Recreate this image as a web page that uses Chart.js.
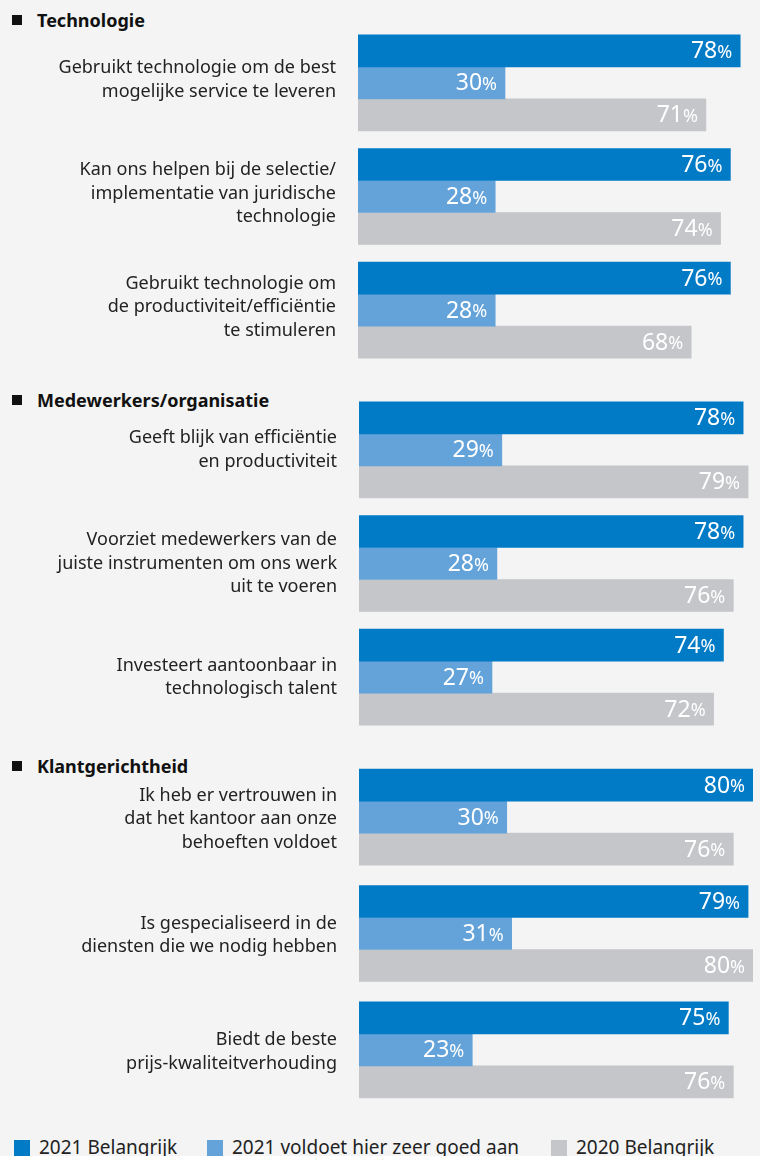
<!DOCTYPE html>
<html>
<head>
<meta charset="utf-8">
<script src="https://cdn.jsdelivr.net/npm/chart.js@4"></script>
<style>
  html, body { margin: 0; padding: 0; background: #f3f4f3; }
  body { width: 760px; height: 1156px; position: relative; overflow: hidden; font-family: "Noto Sans", "Open Sans", sans-serif; }
  .box { position: absolute; left: 0; width: 760px; }
  .hdr { position: absolute; left: 12px; font-weight: bold; font-size: 18px; color: #111; line-height: 24px; white-space: nowrap; }
  .hdr .sq { display: inline-block; width: 10px; height: 10px; background: #111; margin-right: 15px; vertical-align: 2px; }
  .leg { position: absolute; top: 1135px; font-size: 19px; color: #222; line-height: 24px; white-space: nowrap; }
  .leg .sw { display: inline-block; width: 16px; height: 16px; margin-right: 9px; vertical-align: -2px; }
</style>
</head>
<body>
<div class="hdr" id="h0" style="top:8px"></div>
<div class="hdr" id="h1" style="top:388px"></div>
<div class="hdr" id="h2" style="top:754px"></div>

<div class="box" style="top:26px;height:341px"><canvas id="c0"></canvas></div>
<div class="box" style="top:393px;height:341px"><canvas id="c1"></canvas></div>
<div class="box" style="top:759px;height:349px"><canvas id="c2"></canvas></div>

<div id="legend"></div>

<script>
// ---- DATA ----
const sections = ['Technologie', 'Medewerkers/organisatie', 'Klantgerichtheid'];

const categoriesTech = [
  ['Gebruikt technologie om de best', 'mogelijke service te leveren'],
  ['Kan ons helpen bij de selectie/', 'implementatie van juridische', 'technologie'],
  ['Gebruikt technologie om', 'de productiviteit/efficiëntie', 'te stimuleren']
];
const categoriesOrg = [
  ['Geeft blijk van efficiëntie', 'en productiviteit'],
  ['Voorziet medewerkers van de', 'juiste instrumenten om ons werk', 'uit te voeren'],
  ['Investeert aantoonbaar in', 'technologisch talent']
];
const categoriesKlant = [
  ['Ik heb er vertrouwen in', 'dat het kantoor aan onze', 'behoeften voldoet'],
  ['Is gespecialiseerd in de', 'diensten die we nodig hebben'],
  ['Biedt de beste', 'prijs-kwaliteitverhouding']
];

const seriesNames = ['2021 Belangrijk', '2021 voldoet hier zeer goed aan', '2020 Belangrijk'];
const belangrijk2021 = [78, 76, 76, 78, 78, 74, 80, 79, 75];
const voldoet2021    = [30, 28, 28, 29, 28, 27, 30, 31, 23];
const belangrijk2020 = [71, 74, 68, 79, 76, 72, 76, 80, 76];

const seriesColors = ['#027bc7', '#64a3d9', '#c5c6ca'];

// ---- HEADERS & LEGEND ----
sections.forEach((s, i) => {
  const el = document.getElementById('h' + i);
  el.innerHTML = '<span class="sq"></span>';
  el.appendChild(document.createTextNode(s));
});
const legendLefts = [14, 207, 551];
const legend = document.getElementById('legend');
seriesNames.forEach((n, i) => {
  const d = document.createElement('div');
  d.className = 'leg';
  d.style.left = legendLefts[i] + 'px';
  d.innerHTML = '<span class="sw" style="background:' + seriesColors[i] + '"></span>';
  d.appendChild(document.createTextNode(n));
  legend.appendChild(d);
});

// ---- VALUE LABEL PLUGIN ----
const valueLabels = {
  id: 'valueLabels',
  afterDatasetsDraw(chart) {
    const ctx = chart.ctx;
    ctx.save();
    ctx.fillStyle = '#ffffff';
    ctx.textBaseline = 'middle';
    ctx.textAlign = 'right';
    chart.data.datasets.forEach((ds, i) => {
      const meta = chart.getDatasetMeta(i);
      meta.data.forEach((bar, j) => {
        const v = ds.data[j];
        const xr = bar.x - 8;
        const y = bar.y + 1;
        ctx.font = '400 18px "Noto Sans", "Open Sans", sans-serif';
        const pw = ctx.measureText('%').width;
        ctx.fillText('%', xr, y + 1);
        ctx.font = '400 23px "Noto Sans", "Open Sans", sans-serif';
        ctx.fillText(String(v), xr - pw, y);
      });
    });
    ctx.restore();
  }
};

function makeChart(id, labels, from, leftWidth, rightPad, lblOffset) {
  const sl = arr => arr.slice(from, from + 3);
  const data = [sl(belangrijk2021), sl(voldoet2021), sl(belangrijk2020)];
  return new Chart(document.getElementById(id), {
    type: 'bar',
    data: {
      labels: labels,
      datasets: seriesNames.map((n, i) => ({
        label: n,
        data: data[i],
        backgroundColor: seriesColors[i],
        borderWidth: 0,
        barThickness: 32
      }))
    },
    options: {
      indexAxis: 'y',
      responsive: true,
      maintainAspectRatio: false,
      animation: false,
      layout: { padding: 0 },
      plugins: { legend: { display: false }, tooltip: { enabled: false } },
      scales: {
        x: { display: false, min: 0, max: 80 },
        y: {
          grid: { display: false, drawTicks: false },
          border: { display: false },
          ticks: {
            autoSkip: false,
            padding: 22,
            labelOffset: lblOffset,
            color: '#222',
            font: { family: '"Noto Sans", "Open Sans", sans-serif', size: 18, lineHeight: 1.3 }
          },
          afterFit(scale) {
            scale.width = leftWidth;
            scale.paddingTop = 0;
            scale.paddingBottom = 0;
          }
        }
      }
    },
    plugins: [valueLabels, {
      id: 'rightPad',
      beforeLayout(chart) { chart.options.layout.padding = { left: 0, top: 0, bottom: 0, right: rightPad }; }
    }]
  });
}

makeChart('c0', categoriesTech, 0, 358, 10, -3);
makeChart('c1', categoriesOrg, 3, 359, 7, 0);
makeChart('c2', categoriesKlant, 6, 359, 7, 2);
</script>
</body>
</html>
